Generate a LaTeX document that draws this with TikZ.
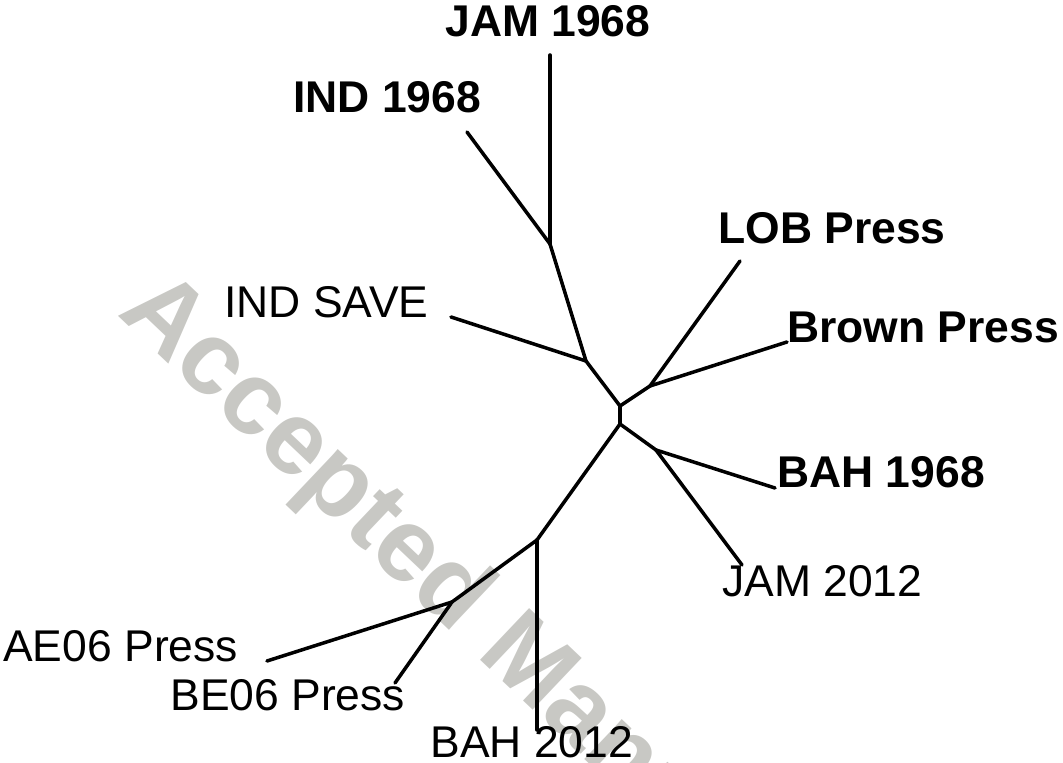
\documentclass[tikz,border=0pt]{standalone}
\usepackage{fontspec}
\setmainfont{Liberation Sans}
\definecolor{wmgray}{RGB}{200,200,196}

\begin{document}
\begin{tikzpicture}[
    x=0.02cm, y=-0.02cm,
    taxon/.style={
        anchor=west,
        inner sep=0pt,
        font=\fontsize{25.3}{30}\selectfont,
    },
    boldtaxon/.style={
        taxon,
        font=\fontsize{25.3}{30}\selectfont\bfseries,
    },
    edge/.style={
        line width=2pt,
        draw=black,
        line cap=round,
        line join=round
    }
]

    \clip (0,0) rectangle (1063,763);

    % watermark
    \node[anchor=base west, inner sep=0pt, rotate=-43.5, text=wmgray,
          font=\fontsize{59}{70}\selectfont\bfseries] (mark) at (116,314) {Accepted Manuscript};

    % inner vertices
    \coordinate (c1) at (620,406);
    \coordinate (c2) at (620,424);
    \coordinate (u1) at (586,361);
    \coordinate (u2) at (550,244);
    \coordinate (r1) at (650,386);
    \coordinate (r2) at (656,450);
    \coordinate (b1) at (537,540);
    \coordinate (b2) at (452,602);

    % leaf tips
    \coordinate (jam68) at (550,55);
    \coordinate (ind68) at (467,132);
    \coordinate (indsave) at (451,317);
    \coordinate (lob) at (740,261);
    \coordinate (brown) at (787,342);
    \coordinate (bah68) at (775,488);
    \coordinate (jam12) at (742,565);
    \coordinate (bah12) at (537,730);
    \coordinate (ae06) at (267,661);
    \coordinate (be06) at (395,683);

    % labels
    \node[boldtaxon] (Ljam68) at (445,21) {JAM 1968};
    \node[boldtaxon] (Lind68) at (293,97) {IND 1968};
    \node[boldtaxon] (Llob) at (718,228) {LOB Press};
    \node[boldtaxon] (Lbrown) at (787,327) {Brown Press};
    \node[boldtaxon] (Lbah68) at (777,472) {BAH 1968};
    \node[taxon] (Ljam12) at (722,581) {JAM 2012};
    \node[taxon] (Lindsave) at (224,302) {IND SAVE};
    \node[taxon] (Lae06) at (3,646) {AE06 Press};
    \node[taxon] (Lbe06) at (170,695) {BE06 Press};
    \node[taxon] (Lbah12) at (430,742) {BAH 2012};

    \draw[edge] (c1) -- (c2);

    \draw[edge] (c1) -- (u1);
    \draw[edge] (u1) -- (indsave);
    \draw[edge] (u1) -- (u2);
    \draw[edge] (u2) -- (jam68);
    \draw[edge] (u2) -- (ind68);

    \draw[edge] (c1) -- (r1);
    \draw[edge] (r1) -- (lob);
    \draw[edge] (r1) -- (brown);

    \draw[edge] (c2) -- (r2);
    \draw[edge] (r2) -- (bah68);
    \draw[edge] (r2) -- (jam12);

    \draw[edge] (c2) -- (b1);
    \draw[edge] (b1) -- (bah12);
    \draw[edge] (b1) -- (b2);
    \draw[edge] (b2) -- (ae06);
    \draw[edge] (b2) -- (be06);
\end{tikzpicture}
\end{document}
